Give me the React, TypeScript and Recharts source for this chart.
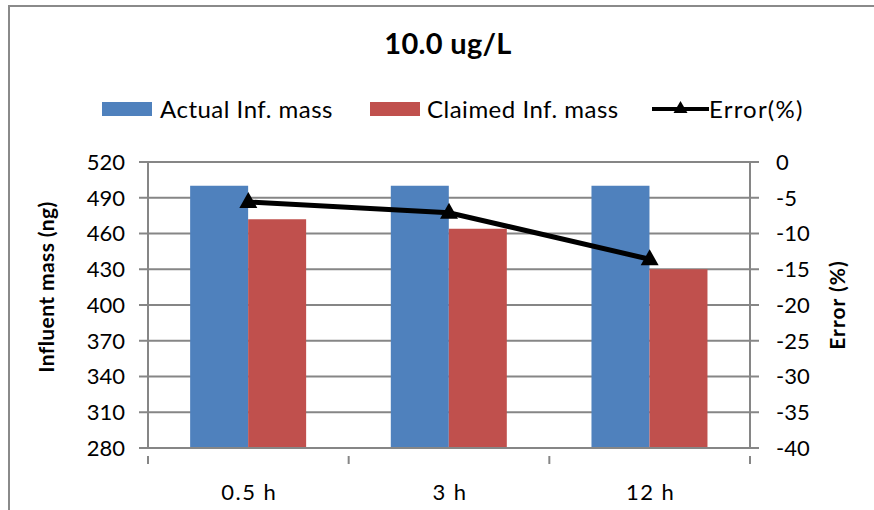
import React from "react"
import {
  ComposedChart,
  Bar,
  Line,
  XAxis,
  YAxis,
  CartesianGrid,
  Legend,
} from "recharts"

const categories = ["0.5 h", "3 h", "12 h"]
const actualMass = [500, 500, 500]
const claimedMass = [472, 464, 430]
const errorPct = [-5.6, -7.1, -13.6]

const leftTicks = [280, 310, 340, 370, 400, 430, 460, 490, 520]
const rightTicks = [-40, -35, -30, -25, -20, -15, -10, -5, 0]

const data = categories.map((name, i) => ({
  name,
  actual: actualMass[i],
  claimed: claimedMass[i],
  error: errorPct[i],
}))

const FONT = "Lato, 'Liberation Sans', sans-serif"
const GRID = "#868686"
const FRAME = "#8a8a8a"
const BLUE = "#4F81BD"
const RED = "#C0504D"

const Triangle = (props: any) => {
  const { cx, cy } = props
  if (cx == null || cy == null) return null
  return (
    <polygon
      points={`${cx},${cy - 10} ${cx - 9},${cy + 6} ${cx + 9},${cy + 6}`}
      fill="#000"
    />
  )
}

const XTick = (props: any) => {
  const { x, y, payload, index, visibleTicksCount } = props
  const half = payload.offset || 100
  return (
    <g>
      <line x1={x - half} y1={y} x2={x - half} y2={y + 8} stroke={GRID} strokeWidth={2} />
      {index === visibleTicksCount - 1 && (
        <line x1={x + half} y1={y} x2={x + half} y2={y + 8} stroke={GRID} strokeWidth={2} />
      )}
      <text
        x={x + 1}
        y={y + 44}
        textAnchor="middle"
        fontSize={22}
        letterSpacing={1.5}
        fontFamily={FONT}
        fill="#000"
      >
        {payload.value}
      </text>
    </g>
  )
}

const LeftTitle = () => {
  const cy = 287
  return (
    <text
      x={45}
      y={cy}
      transform={`rotate(-90 45 ${cy})`}
      textAnchor="middle"
      dominantBaseline="central"
      fontSize={21}
      letterSpacing={0.4}
      fontWeight="bold"
      fontFamily={FONT}
      fill="#000"
    >
      Influent mass (ng)
    </text>
  )
}

const RightTitle = () => {
  const cy = 305
  return (
    <text
      x={836}
      y={cy}
      transform={`rotate(-90 836 ${cy})`}
      textAnchor="middle"
      dominantBaseline="central"
      fontSize={21}
      letterSpacing={1}
      fontWeight="bold"
      fontFamily={FONT}
      fill="#000"
    >
      Error (%)
    </text>
  )
}

const LegendContent = () => {
  const text = {
    fontSize: 24,
    letterSpacing: 0.5,
    fontFamily: FONT,
    color: "#000",
    lineHeight: "24px",
  }
  return (
    <div style={{ position: "relative", height: 0 }}>
      <div style={{ position: "absolute", left: 102, top: 0, display: "flex", alignItems: "center" }}>
        <div style={{ width: 268, display: "flex", alignItems: "center" }}>
          <span style={{ width: 50, height: 14, background: BLUE, marginRight: 8 }} />
          <span style={text}>Actual Inf. mass</span>
        </div>
        <div style={{ width: 282, display: "flex", alignItems: "center" }}>
          <span style={{ width: 50, height: 14, background: RED, marginRight: 7 }} />
          <span style={text}>Claimed Inf. mass</span>
        </div>
        <div style={{ display: "flex", alignItems: "center" }}>
          <svg width={57} height={20}>
            <line x1={0} y1={10} x2={57} y2={10} stroke="#000" strokeWidth={4} />
            <polygon points="28.5,2 21.5,14 35.5,14" fill="#000" />
          </svg>
          <span style={{ ...text, letterSpacing: 1.2 }}>Error(%)</span>
        </div>
      </div>
    </div>
  )
}

export default function App() {
  return (
    <div
      style={{
        position: "fixed",
        left: 0,
        top: 0,
        width: 874,
        height: 510,
        overflow: "hidden",
        background: "#fff",
      }}
    >
      <style>{"html, body { overflow: hidden; }"}</style>
      <div
        style={{
          position: "absolute",
          left: 8,
          top: 5,
          width: 866,
          height: 505,
          borderTop: `2px solid ${FRAME}`,
          borderLeft: `2px solid ${FRAME}`,
          boxSizing: "border-box",
        }}
      />
      <div
        style={{
          position: "absolute",
          left: 0,
          width: 874,
          top: 25,
          textAlign: "center",
          paddingLeft: 22,
          boxSizing: "border-box",
          fontFamily: FONT,
          fontWeight: "bold",
          fontSize: 29,
          letterSpacing: 0.3,
          color: "#000",
        }}
      >
        10.0 ug/L
      </div>
      <ComposedChart
        width={874}
        height={510}
        data={data}
        margin={{ top: 162, right: 0, bottom: 0, left: 0 }}
        barCategoryGap="21%"
        barGap={0}
        style={{ position: "absolute", left: 0, top: 0 }}
      >
        <CartesianGrid
          yAxisId="left"
          vertical={false}
          stroke={GRID}
          strokeWidth={2}
        />
        <XAxis
          dataKey="name"
          height={62}
          axisLine={{ stroke: GRID, strokeWidth: 2 }}
          tickLine={false}
          tick={<XTick />}
          interval={0}
        />
        <YAxis
          yAxisId="left"
          width={148}
          domain={[280, 520]}
          ticks={leftTicks}
          allowDataOverflow
          axisLine={{ stroke: GRID, strokeWidth: 2 }}
          tickLine={{ stroke: GRID, strokeWidth: 2 }}
          tickSize={9}
          tickMargin={14}
          tick={{ fontSize: 22, fontFamily: FONT, fill: "#000" }}
          label={<LeftTitle />}
        />
        <YAxis
          yAxisId="right"
          orientation="right"
          width={124}
          domain={[-40, 0]}
          ticks={rightTicks}
          axisLine={{ stroke: GRID, strokeWidth: 2 }}
          tickLine={{ stroke: GRID, strokeWidth: 2 }}
          tickSize={9}
          tickMargin={17}
          tick={{ fontSize: 22, fontFamily: FONT, fill: "#000" }}
          label={<RightTitle />}
        />
        <Legend
          verticalAlign="top"
          content={<LegendContent />}
          wrapperStyle={{ top: 97, left: 0, width: 874, height: 0 }}
        />
        <Bar
          yAxisId="left"
          dataKey="actual"
          name="Actual Inf. mass"
          fill={BLUE}
          isAnimationActive={false}
        />
        <Bar
          yAxisId="left"
          dataKey="claimed"
          name="Claimed Inf. mass"
          fill={RED}
          isAnimationActive={false}
        />
        <Line
          yAxisId="right"
          type="linear"
          dataKey="error"
          name="Error(%)"
          stroke="#000"
          strokeWidth={5}
          dot={<Triangle />}
          activeDot={false}
          isAnimationActive={false}
        />
      </ComposedChart>
    </div>
  )
}
